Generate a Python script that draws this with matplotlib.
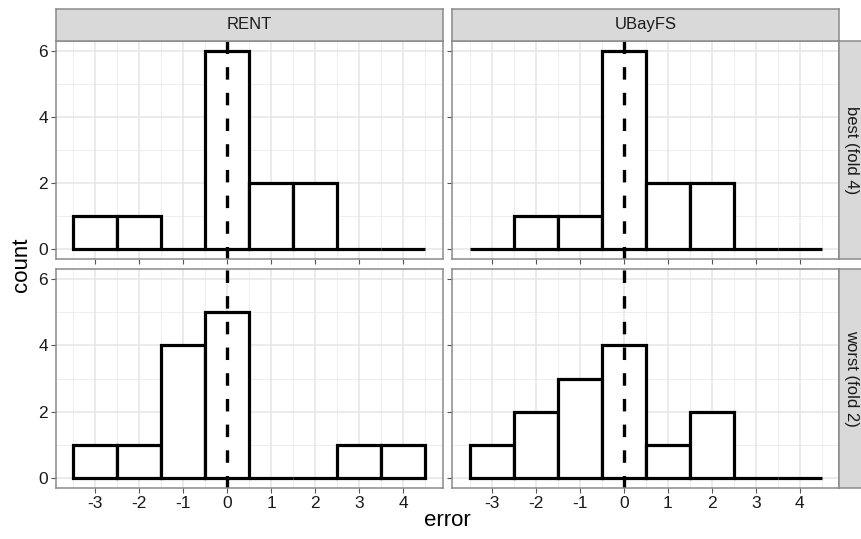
import matplotlib
matplotlib.use("Agg")
import matplotlib.pyplot as plt

plt.rcParams['font.family'] = ['Liberation Sans', 'DejaVu Sans']
plt.rcParams['lines.scale_dashes'] = False

# ---- data ----
bin_centers = [-3, -2, -1, 0, 1, 2, 3, 4]
methods = ["RENT", "UBayFS"]
folds = ["best (fold 4)", "worst (fold 2)"]
rent_best = [1, 1, 0, 6, 2, 2, 0, 0]
ubayfs_best = [0, 1, 1, 6, 2, 2, 0, 0]
rent_worst = [1, 1, 4, 5, 0, 0, 1, 1]
ubayfs_worst = [1, 2, 3, 4, 1, 2, 0, 0]
counts = {
    ("best (fold 4)", "RENT"): rent_best,
    ("best (fold 4)", "UBayFS"): ubayfs_best,
    ("worst (fold 2)", "RENT"): rent_worst,
    ("worst (fold 2)", "UBayFS"): ubayfs_worst,
}
x_ticks = [-3, -2, -1, 0, 1, 2, 3, 4]
y_ticks = [0, 2, 4, 6]
ref_line = 0

W, H = 861, 539
fig = plt.figure(figsize=(W / 100, H / 100), dpi=100)

def fx(px):
    return px / W

def fy(py):
    return 1 - py / H

col_x = [(55.7, 442.7), (452.3, 839.3)]
row_y = [(40.7, 259.3), (269.0, 488.0)]
border_col = "#8a8a8a"
strip_bg = "#D9D9D9"
text_col = "#1a1a1a"

xlim = (-3.9, 4.9)
ylim = (-0.3, 6.3)

for r, fold in enumerate(folds):
    for c, m in enumerate(methods):
        x0, x1 = col_x[c]
        y0, y1 = row_y[r]
        ax = fig.add_axes([fx(x0), fy(y1), fx(x1 - x0), (y1 - y0) / H])
        ax.set_xlim(*xlim)
        ax.set_ylim(*ylim)
        ax.set_facecolor("white")
        # grid
        for v in [x - 0.5 for x in x_ticks] + [x_ticks[-1] + 0.5]:
            ax.axvline(v, color="#EBEBEB", lw=0.6, zorder=0)
        for v in [1, 3, 5]:
            ax.axhline(v, color="#EBEBEB", lw=0.6, zorder=0)
        for v in x_ticks:
            ax.axvline(v, color="#E6E6E6", lw=1.1, zorder=0)
        for v in y_ticks:
            ax.axhline(v, color="#E6E6E6", lw=1.1, zorder=0)
        ax.bar(bin_centers, counts[(fold, m)], width=1.0, color="white",
               edgecolor="black", linewidth=2.3, zorder=2)
        ax.plot([ref_line, ref_line], [ylim[0], ylim[1]], color="black",
                lw=2.4, dashes=(9, 9.5), zorder=3, solid_capstyle="butt",
                dash_capstyle="butt")
        for s in ax.spines.values():
            s.set_color(border_col)
            s.set_linewidth(1.1)
            s.set_zorder(5)
        ax.set_xticks(x_ticks)
        ax.set_yticks(y_ticks)
        ax.tick_params(length=3.5, width=0.8, color="#555555",
                       labelsize=12.5, labelcolor="#1a1a1a", pad=2)
        if r == 0:
            ax.set_xticklabels([])
        else:
            ax.set_xticklabels([str(v) for v in x_ticks])
        if c == 1:
            ax.set_yticklabels([])
        else:
            ax.set_yticklabels([str(v) for v in y_ticks])

        # top strips
        if r == 0:
            sax = fig.add_axes([fx(x0), fy(40.7), fx(x1 - x0), (40.7 - 9) / H])
            sax.set_facecolor(strip_bg)
            sax.set_xticks([])
            sax.set_yticks([])
            for s in sax.spines.values():
                s.set_color(border_col)
                s.set_linewidth(1.1)
            sax.text(0.5, 0.5, m, ha="center", va="center", fontsize=12,
                     color=text_col, transform=sax.transAxes)
        # right strips
        if c == 1:
            sax = fig.add_axes([fx(839.3), fy(y1), fx(28), (y1 - y0) / H])
            sax.set_facecolor(strip_bg)
            sax.set_xticks([])
            sax.set_yticks([])
            for s in sax.spines.values():
                s.set_color(border_col)
                s.set_linewidth(1.1)
            sax.text(0.45, 0.5, fold, ha="center", va="center", fontsize=12,
                     color=text_col, rotation=-90, transform=sax.transAxes)

fig.text(fx(447), fy(521), "error", ha="center", va="center", fontsize=16,
         color="black")
fig.text(fx(21), fy(265), "count", ha="center", va="center", fontsize=16,
         color="black", rotation=90)

fig.savefig("out.png", dpi=100)
